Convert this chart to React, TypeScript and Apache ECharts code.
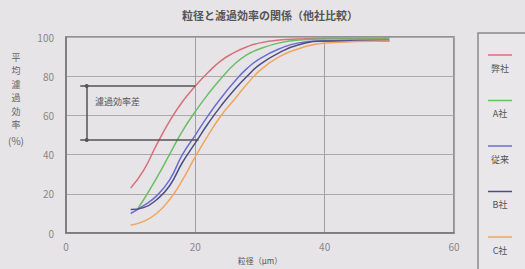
import React, { useEffect, useRef } from "react";
import * as echarts from "echarts";

const titleText = "粒径と濾過効率の関係（他社比較）";
const xName = "粒径（μm）";
const yNameChars = ["平", "均", "濾", "過", "効", "率"];
const yUnit = "(%)";
const seriesNames = ["弊社", "A社", "従来", "B社", "C社"];
const seriesColors = ["#d8707a", "#6cbd6a", "#6c6cd4", "#4e4e86", "#f0a55c"];

const redData = [[10, 23], [12, 32], [14, 45], [16, 57], [18, 67], [20, 75], [22, 82], [24, 88], [26, 92], [28, 95], [30, 97], [33, 98.5], [36, 99], [40, 99.3], [50, 99.3]];
const greenData = [[11, 12], [12, 17], [14, 28], [16, 40], [18, 52], [20, 62], [22, 71], [24, 79], [26, 86], [28, 91], [30, 94], [33, 97], [36, 98.5], [40, 99], [50, 99]];
const blueData = [[10, 10], [12, 14], [14, 19], [16, 27], [18, 40], [20, 50], [22, 60], [24, 69], [26, 77], [28, 84], [30, 89], [33, 94], [36, 97], [40, 98], [50, 98.5]];
const navyData = [[10, 12], [12, 13], [14, 17], [16, 24], [18, 36], [20, 46], [22, 56], [24, 65], [26, 73], [28, 80], [30, 86], [33, 92], [36, 96], [40, 98], [50, 98]];
const orangeData = [[10, 4], [12, 6], [14, 10], [16, 17], [18, 27], [20, 39], [22, 50], [24, 60], [26, 68], [28, 76], [30, 83], [33, 90], [36, 94], [40, 97], [50, 98]];
const allData = [redData, greenData, blueData, navyData, orangeData];

const diffTop = 75;
const diffBottom = 47.5;
const diffLabel = "濾過効率差";

export default function App() {
  const ref = useRef<HTMLDivElement>(null);
  useEffect(() => {
    if (!ref.current) return;
    const chart = echarts.init(ref.current, null, { renderer: "svg" });
    const font = "'Noto Sans CJK JP', 'Noto Sans', sans-serif";
    const legendGraphics: any[] = [
      {
        type: "rect",
        shape: { x: 478, y: 33, width: 60, height: 250 },
        style: { fill: "#e9e7ea", stroke: "#8a8a8a", lineWidth: 1.5 },
      },
    ];
    seriesNames.forEach((n, i) => {
      const y = 55 + i * 45.5;
      legendGraphics.push({
        type: "line",
        shape: { x1: 488, y1: y, x2: 512, y2: y },
        style: { stroke: seriesColors[i], lineWidth: 1.5 },
      });
      legendGraphics.push({
        type: "text",
        x: 500,
        y: y + 13,
        style: { text: n, fill: "#555", font: `9px ${font}`, align: "center", verticalAlign: "middle" },
      });
    });

    const yNameGraphics: any[] = yNameChars.map((c, i) => ({
      type: "text",
      x: 16,
      y: 57 + i * 13.5,
      style: { text: c, fill: "#666", font: `9px ${font}`, align: "center", verticalAlign: "middle" },
    }));
    yNameGraphics.push({
      type: "text",
      x: 16,
      y: 140,
      style: { text: yUnit, fill: "#666", font: `10px ${font}`, align: "center", verticalAlign: "middle" },
    });

    const series: any[] = allData.map((d, i) => ({
      type: "line",
      name: seriesNames[i],
      data: d,
      smooth: true,
      showSymbol: false,
      lineStyle: { color: seriesColors[i], width: 1.5 },
      itemStyle: { color: seriesColors[i] },
      z: 3,
    }));
    series[0].markLine = {
      silent: true,
      symbol: "none",
      label: { show: false },
      lineStyle: { color: "#555", width: 1.5, type: "solid" },
      data: [
        [{ coord: [2.2, diffTop] }, { coord: [20, diffTop] }],
        [{ coord: [2.2, diffBottom] }, { coord: [20.5, diffBottom] }],
        [
          { coord: [3.2, diffTop], symbol: "circle", symbolSize: 4 },
          { coord: [3.2, diffBottom], symbol: "circle", symbolSize: 4 },
        ],
      ],
    };
    series[0].markPoint = {
      silent: true,
      symbol: "rect",
      symbolSize: 0.1,
      data: [
        {
          coord: [4, 67],
          label: {
            show: true,
            formatter: diffLabel,
            position: "right",
            color: "#555",
            fontSize: 9,
            fontFamily: font,
            offset: [-2, 0],
          },
        },
      ],
    };

    chart.setOption({
      animation: false,
      backgroundColor: "#e6e4e7",
      title: {
        text: titleText,
        left: 265,
        textAlign: "center",
        top: 4,
        textStyle: { fontSize: 11, fontWeight: "bold", color: "#555", fontFamily: font },
      },
      grid: {
        left: 66,
        right: 71,
        top: 37,
        bottom: 34,
        show: true,
        borderColor: "#777",
        borderWidth: 1.5,
        backgroundColor: "transparent",
      },
      xAxis: {
        type: "value",
        min: 0,
        max: 60,
        interval: 20,
        name: xName,
        nameLocation: "middle",
        nameGap: 21,
        nameTextStyle: { fontSize: 8, color: "#555", fontFamily: font },
        axisLine: { show: true, lineStyle: { color: "#777", width: 1.5 } },
        axisTick: { show: false },
        axisLabel: { color: "#888", fontSize: 10, margin: 8, fontFamily: font },
        splitLine: { show: true, lineStyle: { color: "#a0a0a0", width: 1 } },
      },
      yAxis: {
        type: "value",
        min: 0,
        max: 100,
        interval: 20,
        axisLine: { show: true, lineStyle: { color: "#777", width: 1.5 } },
        axisTick: { show: false },
        axisLabel: { color: "#888", fontSize: 10, margin: 12, fontFamily: font },
        splitLine: { show: true, lineStyle: { color: "#aaaaaa", width: 1 } },
      },
      graphic: [...legendGraphics, ...yNameGraphics],
      series,
    });
    return () => chart.dispose();
  }, []);
  return <div ref={ref} style={{ width: 525, height: 269, position: "absolute", left: 0, top: 0 }} />;
}
